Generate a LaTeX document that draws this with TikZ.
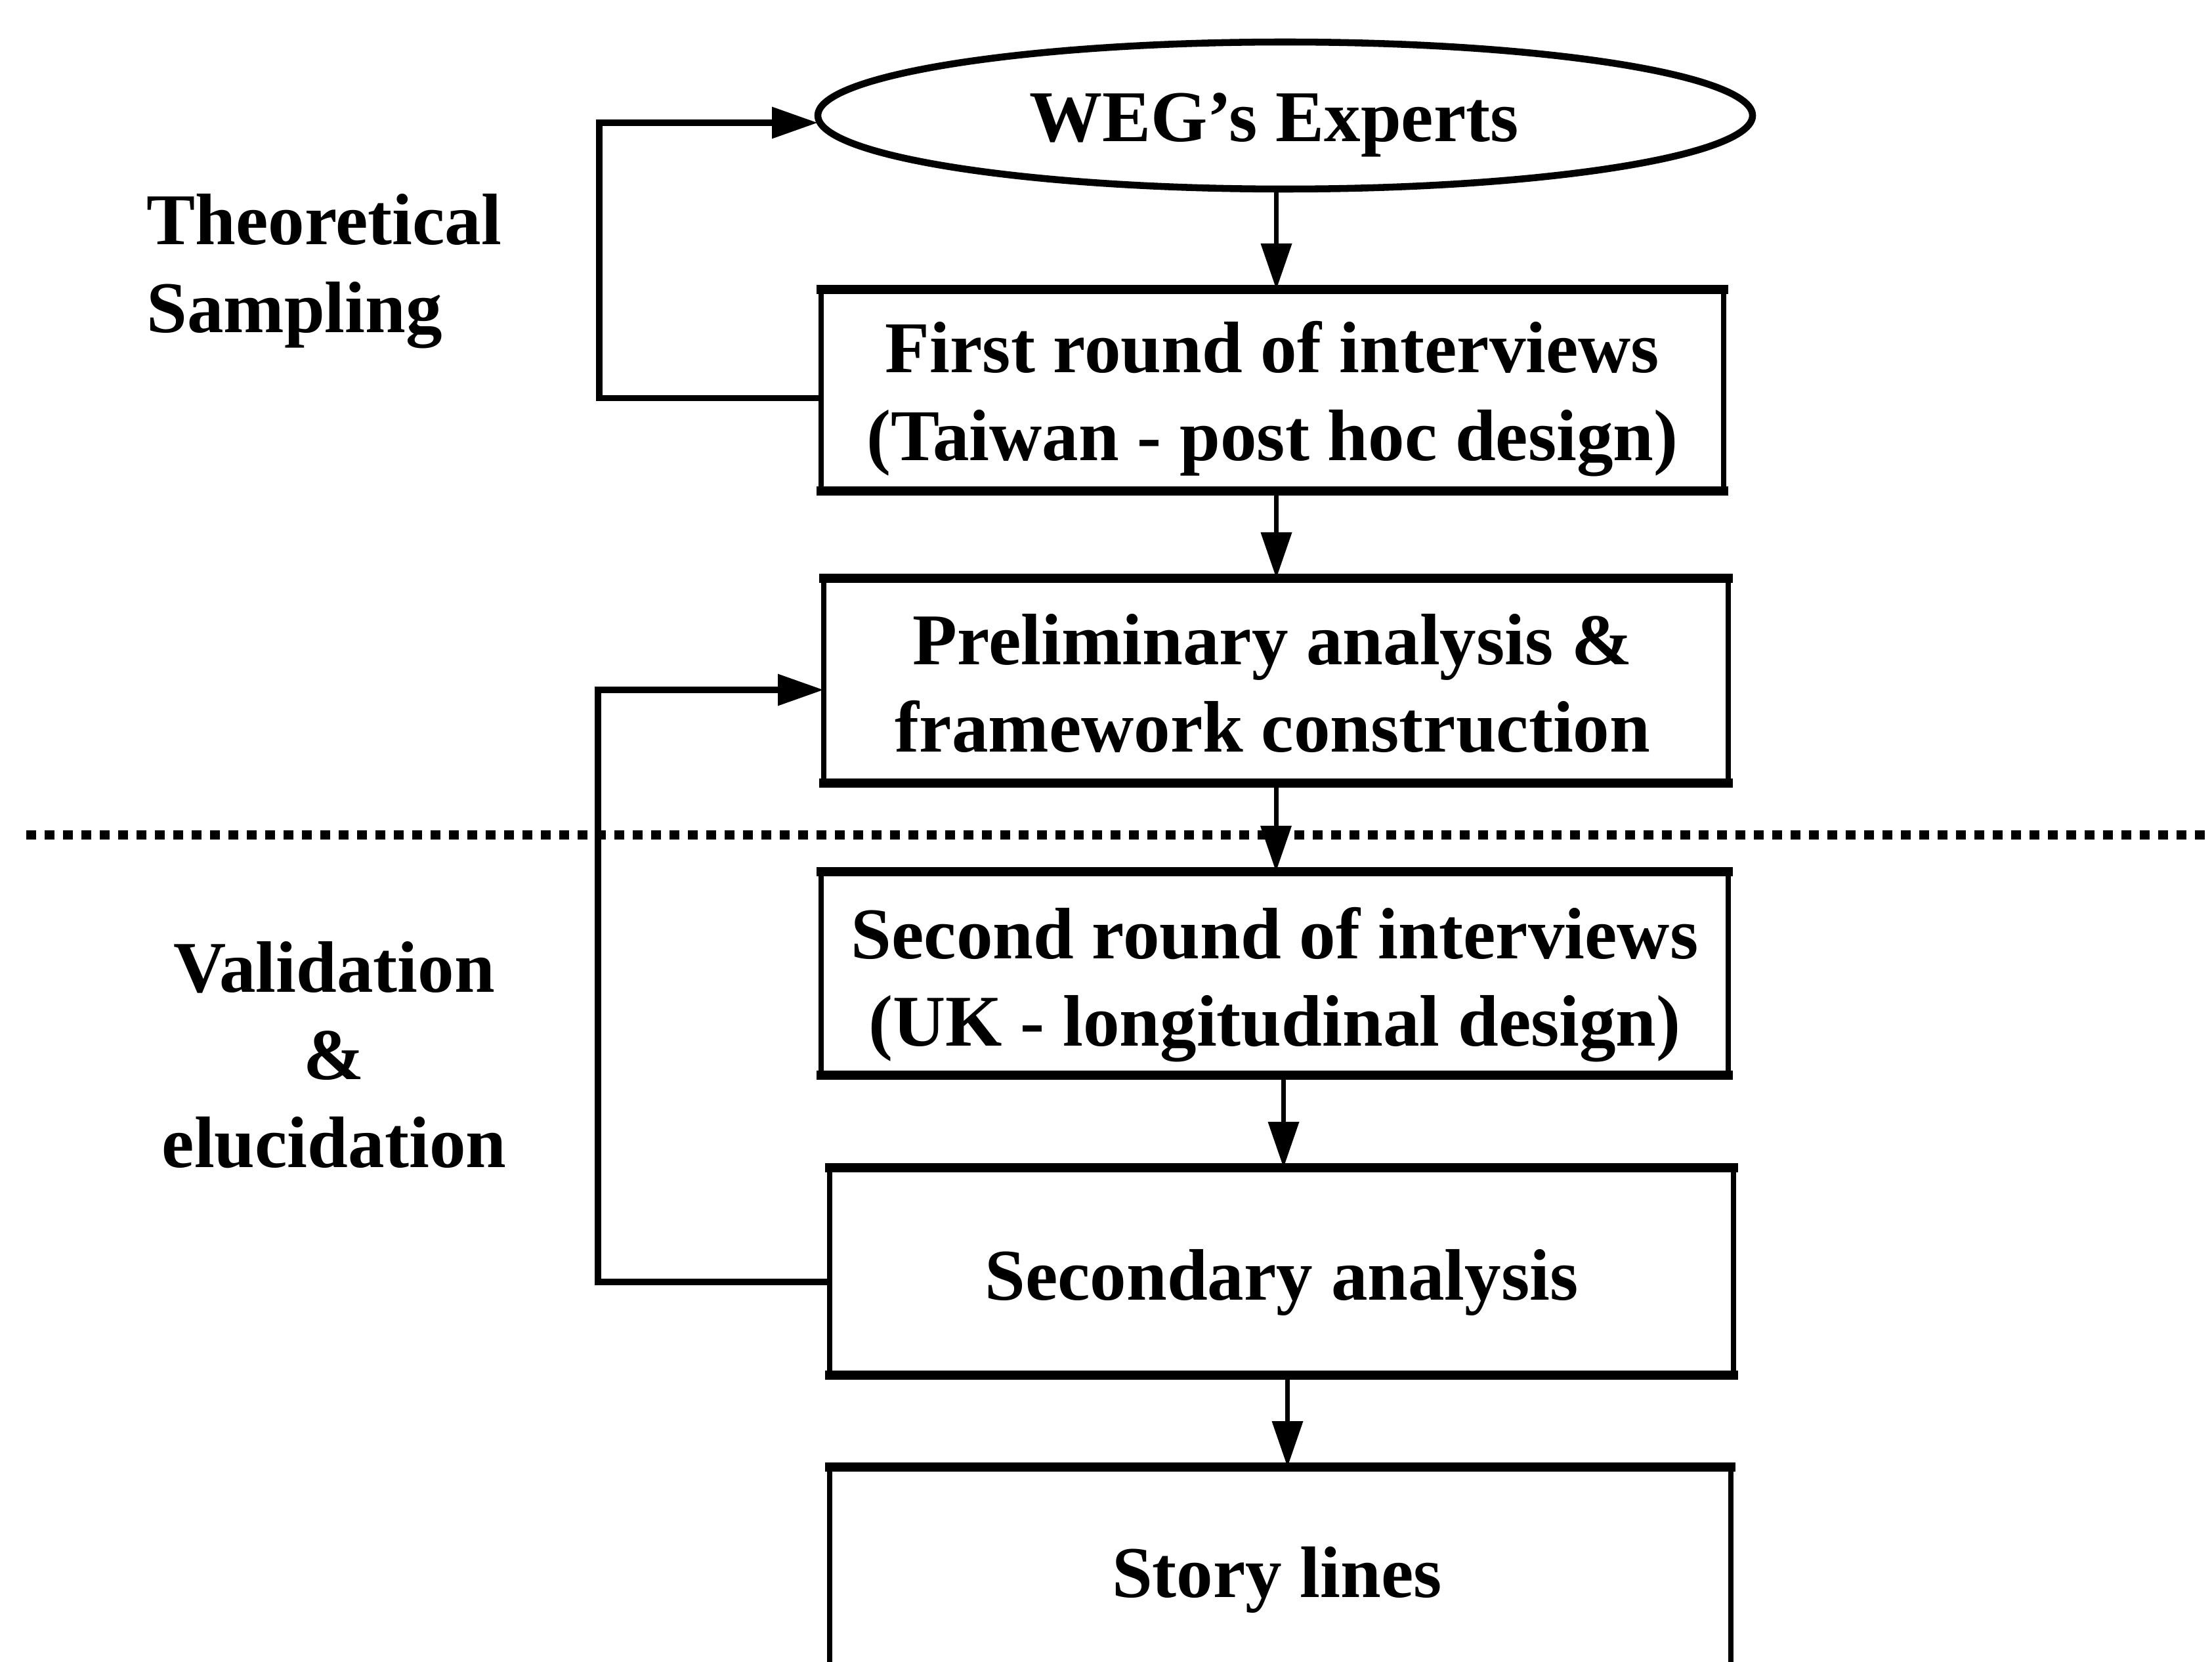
\documentclass[tikz,border=0pt]{standalone}
\usepackage{fontspec}
\setmainfont{Liberation Serif}
\usetikzlibrary{shapes.geometric,arrows.meta,calc}
\tikzset{
  txt/.style={font=\fontsize{31.6}{38}\selectfont\bfseries, align=center},
  boxnode/.style={draw, rectangle, line width=2.4pt, inner sep=0pt, outer sep=0pt},
  ellnode/.style={draw, ellipse, line width=3pt, inner sep=0pt, outer sep=0pt,
    minimum width=14.24cm, minimum height=2.24cm},
  arr/.style={line width=2pt, -{Triangle[length=0.7cm,width=0.46cm]}},
  looparr/.style={line width=2.8pt, -{Triangle[length=0.7cm,width=0.46cm]}},
  dotline/.style={line width=0.14cm, dash pattern=on 0.15cm off 0.13cm},
  thickedge/.style={line width=3.8pt, line cap=rect}
}
\begin{document}
\begin{tikzpicture}
\useasboundingbox (0,0) rectangle (33.70,-25.32);

% dotted separator
\coordinate (dl) at (0.40,-12.72);
\coordinate (dr) at (33.70,-12.72);
\draw[dotline] (dl) -- (dr);

% shapes
\node[ellnode] (ell) at (19.58,-1.76) {};
\node[boxnode, minimum width=13.75cm, minimum height=3.07cm] (b1) at (19.385,-5.945) {};
\node[boxnode, minimum width=13.78cm, minimum height=3.12cm] (b2) at (19.44,-10.37) {};
\node[boxnode, minimum width=13.82cm, minimum height=3.10cm] (b3) at (19.42,-14.83) {};
\node[boxnode, minimum width=13.77cm, minimum height=3.16cm] (b4) at (19.525,-19.37) {};
\node[boxnode, minimum width=13.73cm, minimum height=3.05cm] (b5) at (19.505,-23.875) {};

\foreach \n in {b1,b2,b3,b4,b5}{
  \draw[thickedge] (\n.north west) -- (\n.north east);
  \draw[thickedge] (\n.south west) -- (\n.south east);
}

% texts
\node[txt] (te) at ($(ell)+(-0.17,-0.14)$) {WEG's Experts};
\node[txt] (t1) at ($(b1)+(0,-0.13)$) {First round of interviews\\(Taiwan - post hoc design)};
\node[txt] (t2) at ($(b2)+(-0.05,-0.04)$) {Preliminary analysis \&\\framework construction};
\node[txt] (t3) at ($(b3)+(0,-0.17)$) {Second round of interviews\\(UK - longitudinal design)};
\node[txt] (t4) at ($(b4)+(0,-0.17)$) {Secondary analysis};
\node[txt] (t5) at ($(b5)+(-0.05,-0.19)$) {Story lines};

% side labels
\node[txt, align=left, anchor=west] (ts) at (2.11,-4.13) {Theoretical\\Sampling};
\node[txt] (ve) at (5.09,-16.07) {Validation\\\&\\elucidation};

% vertical arrows
\draw[arr] ($(ell.south -| b1.north)+(0.06,0)$) -- ($(b1.north)+(0.06,0)$);
\draw[arr] ($(b1.south)+(0.06,0)$) -- ($(b1.south |- b2.north)+(0.06,0)$);
\draw[arr] (b2.south) -- (b2.south |- b3.north);
\draw[arr] ($(b4.north |- b3.south)+(0.03,0)$) -- ($(b4.north)+(0.03,0)$);
\draw[arr] ($(b4.south)+(0.09,0)$) -- ($(b4.south |- b5.north)+(0.09,0)$);

% feedback loops
\draw[looparr] ($(b1.west)+(0,-0.12)$) -- ++(-3.38,0) |- ($(ell.west)+(0,-0.11)$);
\draw[looparr] ($(b4.west)+(0,-0.16)$) -- ++(-3.53,0) |- ($(b2.west)+(0,-0.14)$);
\end{tikzpicture}
\end{document}
